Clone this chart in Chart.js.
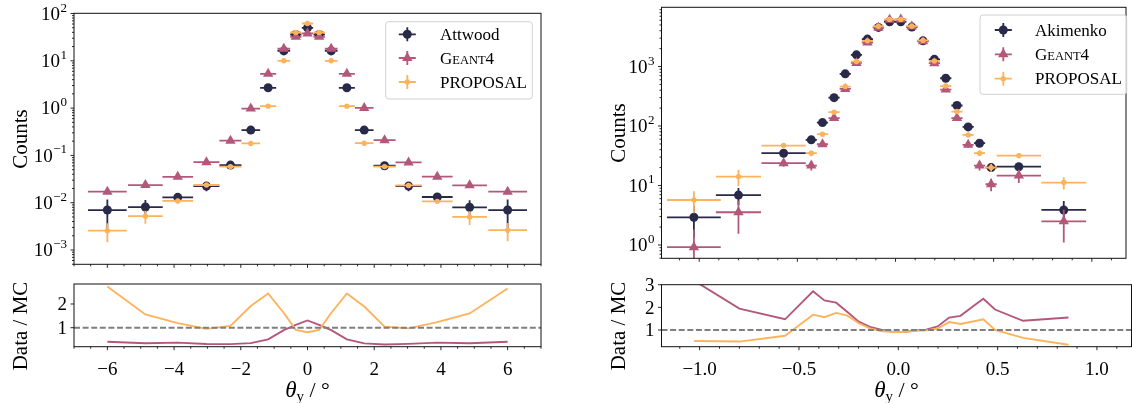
<!DOCTYPE html>
<html>
<head>
<meta charset="utf-8">
<script src="https://cdn.jsdelivr.net/npm/chart.js@4.4.1/dist/chart.umd.min.js"></script>
<style>
  body { margin: 0; background: #fff; width: 1132px; height: 403px; overflow: hidden; position: relative; }
  canvas { position: absolute; }
</style>
</head>
<body>
<canvas id="leftMain" width="548" height="272" style="left:0;top:0"></canvas>
<canvas id="leftRatio" width="548" height="131" style="left:0;top:272px"></canvas>
<canvas id="rightMain" width="572" height="272" style="left:560px;top:0"></canvas>
<canvas id="rightRatio" width="572" height="131" style="left:560px;top:272px"></canvas>
<script>
// ---------- left panel: Attwood vs simulations ----------
const leftTheta = [-6, -4.86, -3.89, -3.03, -2.31, -1.70, -1.18, -0.71, -0.35, 0, 0.35, 0.71, 1.18, 1.70, 2.31, 3.03, 3.89, 4.86, 6];
const leftHalfWidth = [0.58, 0.52, 0.46, 0.39, 0.33, 0.28, 0.24, 0.19, 0.17, 0.17, 0.17, 0.19, 0.24, 0.28, 0.33, 0.39, 0.46, 0.52, 0.58];
const attwood = [0.0070, 0.0081, 0.0130, 0.0225, 0.0625, 0.343, 2.69, 16.2, 36.0, 49.7, 36.0, 16.2, 2.69, 0.343, 0.0605, 0.0225, 0.0132, 0.0080, 0.0070];
const attwoodErr = [0.0047, 0.0033, 0.0015, 0.005, 0.006, 0.02, 0.15, 0.8, 1.5, 2.2, 1.5, 0.8, 0.15, 0.02, 0.006, 0.005, 0.0015, 0.0033, 0.0047];
const leftGeant = [0.0171, 0.0236, 0.0352, 0.072, 0.205, 0.98, 5.3, 18.0, 32.1, 38.0, 32.1, 18.0, 5.3, 1.01, 0.21, 0.071, 0.0355, 0.0233, 0.0171];
const leftGeantErr = [0.0006, 0.0007, 0.001, 0.0015, 0.004, 0.015, 0.06, 0.2, 0.3, 0.35, 0.3, 0.2, 0.06, 0.015, 0.004, 0.0015, 0.001, 0.0007, 0.0006];
const leftProposal = [0.00256, 0.0052, 0.0109, 0.0237, 0.058, 0.179, 1.10, 10.0, 39.7, 61.5, 39.7, 10.0, 1.10, 0.181, 0.058, 0.0232, 0.0107, 0.0050, 0.00264];
const leftProposalErr = [0.0011, 0.0016, 0.0012, 0.002, 0.003, 0.008, 0.04, 0.3, 1.0, 1.5, 1.0, 0.3, 0.04, 0.008, 0.003, 0.002, 0.0012, 0.0016, 0.0011];

// ---------- right panel: Akimenko vs simulations ----------
const rightTheta = [-1.027, -0.800, -0.570, -0.429, -0.372, -0.313, -0.256, -0.199, -0.143, -0.087, -0.030, 0.027, 0.083, 0.140, 0.198, 0.256, 0.313, 0.370, 0.428, 0.487, 0.628, 0.857];
const rightHalfWidth = [0.137, 0.115, 0.113, 0.0285, 0.0285, 0.0285, 0.0285, 0.0285, 0.0285, 0.0285, 0.0285, 0.0285, 0.0285, 0.0285, 0.0285, 0.0285, 0.0285, 0.0285, 0.0285, 0.0285, 0.113, 0.114];
const akimenko = [2.92, 6.9, 34.9, 58.5, 114, 300, 754, 1573, 2890, 4550, 5650, 5650, 4600, 2700, 1320, 635, 221, 96.6, 51.4, 20.0, 20.7, 3.88];
const akimenkoErr = [1.6, 2.2, 5, 6, 8, 12, 20, 30, 40, 50, 55, 55, 50, 40, 30, 20, 12, 8, 6, 3, 3, 1.6];
const rightGeant = [0.92, 3.55, 23.7, 21.6, 49.4, 136, 420, 1150, 2535, 4500, 6100, 6200, 4700, 2650, 1140, 410, 136, 48.2, 21.6, 10.5, 14.7, 2.5];
const rightGeantErr = [0.9, 2.0, 3, 3.7, 5, 8, 10, 15, 25, 35, 40, 40, 35, 25, 15, 10, 8, 5, 3.7, 2.5, 3.7, 1.4];
const rightProposal = [5.7, 14.1, 46.9, 34.9, 72.8, 171, 461, 1213, 2700, 4750, 6200, 6200, 4750, 2750, 1240, 470, 175, 70.8, 34.9, 20.0, 31.8, 11.2];
const rightProposalErr = [2.3, 4.3, 4, 4, 5, 8, 12, 20, 30, 40, 45, 45, 40, 30, 20, 12, 8, 5, 4, 3, 3, 2.6];

// ---------- ticks ----------
const leftXTicks = [-6, -4, -2, 0, 2, 4, 6];
const leftXTickLabels = ['\u22126', '\u22124', '\u22122', '0', '2', '4', '6'];
const rightXTicks = [-1.0, -0.5, 0, 0.5, 1.0];
const rightXTickLabels = ['\u22121.0', '\u22120.5', '0.0', '0.5', '1.0'];
const leftCountExponents = [-3, -2, -1, 0, 1, 2];
const rightCountExponents = [0, 1, 2, 3];
const leftRatioTicks = [1, 2];
const rightRatioTicks = [1, 2, 3];

const NAVY = '#29294a';
const ROSE = '#b3587a';
const AMBER = '#fdb35c';
const FONT = '"Liberation Serif", "Times New Roman", serif';
const TICK_PX = 19;
const SUP_PX = 13;
const TITLE_PX = 21;

const pts = (xs, ys) => xs.map((x, i) => ({ x: x, y: ys[i] }));
const ratio = (a, b) => a.map((v, i) => v / b[i]);

function minorTicks(from, to, step, majors) {
  const out = [];
  for (let v = from; v <= to + 1e-9; v += step) {
    const r = Math.round(v * 1000) / 1000;
    if (!majors.some(m => Math.abs(m - r) < 1e-6)) out.push(r);
  }
  return out;
}

// per-canvas axis decoration settings (page offsets, ticks, titles, legend)
const axisCfg = {};

function drawPow(ctx, exp, right, cy) {
  const sup = exp < 0 ? '\u2212' + (-exp) : String(exp);
  ctx.font = TICK_PX + 'px ' + FONT;
  const wb = ctx.measureText('10').width;
  ctx.font = SUP_PX + 'px ' + FONT;
  const ws = ctx.measureText(sup).width;
  const x0 = right - ws - wb - 0.5;
  ctx.textAlign = 'left';
  ctx.textBaseline = 'alphabetic';
  ctx.font = TICK_PX + 'px ' + FONT;
  ctx.fillText('10', x0, cy + 6.2);
  ctx.font = SUP_PX + 'px ' + FONT;
  ctx.fillText(sup, x0 + wb + 0.5, cy - 2);
}

function drawLegend(ctx, lg, ox, oy) {
  ctx.save();
  const bx = lg.box[0] - ox, by = lg.box[1] - oy, bw = lg.box[2], bh = lg.box[3];
  ctx.beginPath();
  ctx.roundRect(bx, by, bw, bh, 3);
  ctx.fillStyle = 'rgba(255,255,255,0.8)';
  ctx.fill();
  ctx.strokeStyle = '#d0d0d0';
  ctx.lineWidth = 1;
  ctx.stroke();
  lg.entries.forEach((e, i) => {
    const cx = lg.markerX - ox, cy = lg.rows[i] - oy;
    ctx.strokeStyle = e.color;
    ctx.lineWidth = 1.8;
    ctx.beginPath();
    ctx.moveTo(cx - 8.5, cy); ctx.lineTo(cx + 8.5, cy);
    ctx.moveTo(cx, cy - 7); ctx.lineTo(cx, cy + 7);
    ctx.stroke();
    ctx.fillStyle = e.color;
    Chart.helpers.drawPoint(ctx, { pointStyle: e.style, radius: e.radius, rotation: 0, borderWidth: 0 }, cx, cy);
    ctx.fillStyle = '#000';
    ctx.textAlign = 'left';
    ctx.textBaseline = 'alphabetic';
    let tx = lg.textX - ox;
    e.text.forEach(part => {
      ctx.font = part[1] + 'px ' + FONT;
      ctx.fillText(part[0], tx, cy + 5.5);
      tx += ctx.measureText(part[0]).width;
    });
  });
  ctx.restore();
}

function drawThetaLabel(ctx, cx, base) {
  const parts = [['\u03b8', 'italic 23px '], ['y', '15px '], [' / \u00b0', '22px ']];
  let w = 0;
  parts.forEach(p => { ctx.font = p[1] + FONT; w += ctx.measureText(p[0]).width; });
  let x = cx - w / 2;
  ctx.textAlign = 'left';
  ctx.textBaseline = 'alphabetic';
  parts.forEach((p, i) => {
    ctx.font = p[1] + FONT;
    ctx.fillText(p[0], x, i === 1 ? base + 4 : base);
    x += ctx.measureText(p[0]).width;
  });
}

const axesPlugin = {
  id: 'axesDeco',
  // error bars under each series' markers
  beforeDatasetDraw(chart, args) {
    const ds = chart.data.datasets[args.index];
    if (!ds.xErr) return;
    const { ctx, chartArea: a, scales: { x, y } } = chart;
    ctx.save();
    ctx.beginPath();
    ctx.rect(a.left, a.top, a.right - a.left, a.bottom - a.top);
    ctx.clip();
    ctx.strokeStyle = ds.backgroundColor;
    ctx.lineWidth = 1.8;
    ctx.beginPath();
    ds.data.forEach((p, i) => {
      const px = x.getPixelForValue(p.x), py = y.getPixelForValue(p.y);
      ctx.moveTo(x.getPixelForValue(p.x - ds.xErr[i]), py);
      ctx.lineTo(x.getPixelForValue(p.x + ds.xErr[i]), py);
      const lo = p.y - ds.yErr[i];
      ctx.moveTo(px, lo > 0 ? y.getPixelForValue(lo) : a.bottom + 10);
      ctx.lineTo(px, y.getPixelForValue(p.y + ds.yErr[i]));
    });
    ctx.stroke();
    ctx.restore();
  },
  afterDraw(chart) {
    const cfg = axisCfg[chart.canvas.id];
    const { ctx, chartArea: a, scales: { x, y } } = chart;
    ctx.save();
    ctx.strokeStyle = '#111';
    ctx.lineWidth = 1;
    ctx.strokeRect(a.left, a.top, a.right - a.left, a.bottom - a.top);

    ctx.lineWidth = 0.9;
    ctx.beginPath();
    cfg.xMajor.forEach(v => { const p = x.getPixelForValue(v); ctx.moveTo(p, a.bottom); ctx.lineTo(p, a.bottom + 3.5); });
    cfg.xMinor.forEach(v => { const p = x.getPixelForValue(v); ctx.moveTo(p, a.bottom); ctx.lineTo(p, a.bottom + 2); });
    const yMajorVals = cfg.yLog ? cfg.yMajor.map(e => Math.pow(10, e)) : cfg.yMajor;
    yMajorVals.forEach(v => { const p = y.getPixelForValue(v); ctx.moveTo(a.left, p); ctx.lineTo(a.left - 3.5, p); });
    if (cfg.yLog) {
      for (let d = cfg.yMajor[0] - 1; d <= cfg.yMajor[cfg.yMajor.length - 1] + 1; d++) {
        for (let k = 2; k <= 9; k++) {
          const v = k * Math.pow(10, d);
          if (v < y.min || v > y.max) continue;
          const p = y.getPixelForValue(v);
          ctx.moveTo(a.left, p); ctx.lineTo(a.left - 2, p);
        }
      }
    }
    ctx.stroke();

    ctx.fillStyle = '#000';
    if (cfg.xLabels) {
      ctx.font = TICK_PX + 'px ' + FONT;
      ctx.textAlign = 'center';
      ctx.textBaseline = 'alphabetic';
      cfg.xMajor.forEach((v, i) => ctx.fillText(cfg.xLabels[i], x.getPixelForValue(v), a.bottom + 28));
    }
    if (cfg.yLog) {
      cfg.yMajor.forEach(e => drawPow(ctx, e, a.left - 7, y.getPixelForValue(Math.pow(10, e))));
    } else {
      ctx.font = TICK_PX + 'px ' + FONT;
      ctx.textAlign = 'right';
      ctx.textBaseline = 'alphabetic';
      cfg.yMajor.forEach(v => ctx.fillText(String(v), a.left - 7, y.getPixelForValue(v) + 6.2));
    }

    // rotated y title
    ctx.save();
    ctx.translate(cfg.yTitle[1] - cfg.ox, cfg.yTitle[2] - cfg.oy);
    ctx.rotate(-Math.PI / 2);
    ctx.font = TITLE_PX + 'px ' + FONT;
    ctx.textAlign = 'center';
    ctx.textBaseline = 'middle';
    ctx.fillText(cfg.yTitle[0], 0, 0);
    ctx.restore();

    if (cfg.xTitle) drawThetaLabel(ctx, (a.left + a.right) / 2, 397 - cfg.oy);
    if (cfg.legend) drawLegend(ctx, cfg.legend, cfg.ox, cfg.oy);
    ctx.restore();
  }
};

function seriesSets(xs, hw, data, dataErr, geant, geantErr, prop, propErr) {
  return [
    { data: pts(xs, prop), xErr: hw, yErr: propErr, backgroundColor: AMBER, pointStyle: 'circle', pointRadius: 2.7, borderWidth: 0, order: 1 },
    { data: pts(xs, geant), xErr: hw, yErr: geantErr, backgroundColor: ROSE, pointStyle: 'triangle', pointRadius: 6, borderWidth: 0, order: 2 },
    { data: pts(xs, data), xErr: hw, yErr: dataErr, backgroundColor: NAVY, pointStyle: 'circle', pointRadius: 4.5, borderWidth: 0, order: 3 }
  ];
}

function ratioSets(xs, data, geant, prop, xMin, xMax) {
  return [
    { data: [{ x: xMin, y: 1 }, { x: xMax, y: 1 }], showLine: true, borderColor: '#7f7f7f', borderWidth: 1.9, borderDash: [6, 2.6], pointRadius: 0, order: 0 },
    { data: pts(xs, ratio(data, prop)), showLine: true, borderColor: AMBER, borderWidth: 1.9, pointRadius: 0, order: 1 },
    { data: pts(xs, ratio(data, geant)), showLine: true, borderColor: ROSE, borderWidth: 1.9, pointRadius: 0, order: 2 }
  ];
}

function makeChart(id, datasets, xr, yType, yr, padding) {
  return new Chart(document.getElementById(id), {
    type: 'scatter',
    data: { datasets: datasets },
    options: {
      responsive: false,
      animation: false,
      devicePixelRatio: 1,
      layout: { padding: padding },
      plugins: { legend: { display: false }, tooltip: { enabled: false } },
      scales: {
        x: { type: 'linear', min: xr[0], max: xr[1], display: false },
        y: { type: yType, min: yr[0], max: yr[1], display: false }
      }
    },
    plugins: [axesPlugin]
  });
}

const leftXRange = [-7, 7];
const rightXRange = [-1.192, 1.174];
const leftMinor = minorTicks(-7, 7, 0.5, leftXTicks);
const rightMinor = minorTicks(-1.1, 1.1, 0.1, rightXTicks);

const geantText = [['G', 17], ['EANT', 12.5], ['4', 17]];

axisCfg.leftMain = {
  ox: 0, oy: 0, xMajor: leftXTicks, xMinor: leftMinor, xLabels: null,
  yLog: true, yMajor: leftCountExponents, yTitle: ['Counts', 21, 139],
  legend: {
    box: [385.7, 21.7, 146.6, 77.3], markerX: 407.3, textX: 440, rows: [34.3, 58, 82],
    entries: [
      { color: NAVY, style: 'circle', radius: 4.5, text: [['Attwood', 17]] },
      { color: ROSE, style: 'triangle', radius: 6, text: geantText },
      { color: AMBER, style: 'circle', radius: 2.7, text: [['PROPOSAL', 17]] }
    ]
  }
};
axisCfg.leftRatio = {
  ox: 0, oy: 272, xMajor: leftXTicks, xMinor: leftMinor, xLabels: leftXTickLabels,
  yLog: false, yMajor: leftRatioTicks, yTitle: ['Data / MC', 21, 326], xTitle: true
};
axisCfg.rightMain = {
  ox: 560, oy: 0, xMajor: rightXTicks, xMinor: rightMinor, xLabels: null,
  yLog: true, yMajor: rightCountExponents, yTitle: ['Counts', 619, 133],
  legend: {
    box: [980, 15, 146.7, 79.3], markerX: 1003.3, textX: 1035, rows: [30, 54.3, 78.7],
    entries: [
      { color: NAVY, style: 'circle', radius: 4.5, text: [['Akimenko', 17]] },
      { color: ROSE, style: 'triangle', radius: 6, text: geantText },
      { color: AMBER, style: 'circle', radius: 2.7, text: [['PROPOSAL', 17]] }
    ]
  }
};
axisCfg.rightRatio = {
  ox: 560, oy: 272, xMajor: rightXTicks, xMinor: rightMinor, xLabels: rightXTickLabels,
  yLog: false, yMajor: rightRatioTicks, yTitle: ['Data / MC', 619, 326], xTitle: true
};

makeChart('leftMain',
  seriesSets(leftTheta, leftHalfWidth, attwood, attwoodErr, leftGeant, leftGeantErr, leftProposal, leftProposalErr),
  leftXRange, 'logarithmic', [0.000499, 101], { left: 74, top: 13.3, right: 7, bottom: 7.7 });
makeChart('leftRatio',
  ratioSets(leftTheta, attwood, leftGeant, leftProposal, leftXRange[0], leftXRange[1]),
  leftXRange, 'linear', [0.198, 2.844], { left: 74, top: 12, right: 7, bottom: 56.3 });
makeChart('rightMain',
  seriesSets(rightTheta, rightHalfWidth, akimenko, akimenkoErr, rightGeant, rightGeantErr, rightProposal, rightProposalErr),
  rightXRange, 'logarithmic', [0.597, 9900], { left: 101.5, top: 7.3, right: 0.5, bottom: 13.7 });
makeChart('rightRatio',
  ratioSets(rightTheta, akimenko, rightGeant, rightProposal, rightXRange[0], rightXRange[1]),
  rightXRange, 'linear', [0.263, 3.0], { left: 101.5, top: 12.7, right: 0.5, bottom: 56.3 });
</script>
</body>
</html>
